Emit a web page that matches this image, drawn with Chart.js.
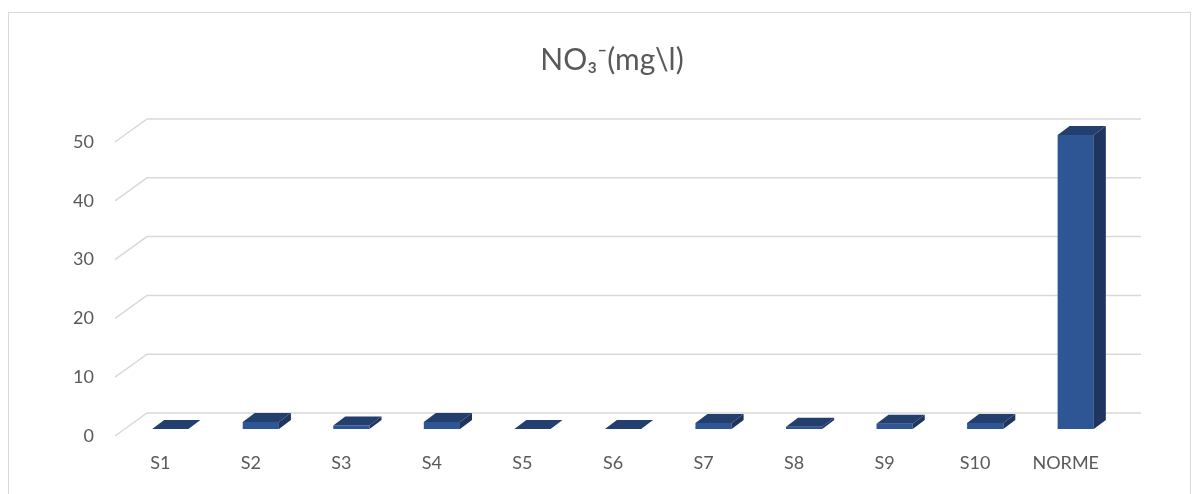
<!DOCTYPE html>
<html>
<head>
<meta charset="utf-8">
<script src="https://cdn.jsdelivr.net/npm/chart.js@4.4.1/dist/chart.umd.min.js"></script>
<style>
  html, body { margin: 0; padding: 0; background: #ffffff; }
  #wrap { width: 1202px; height: 494px; position: relative; }
</style>
</head>
<body>
<div id="wrap"><canvas id="c" width="1202" height="494"></canvas></div>
<script>
const categories = ['S1', 'S2', 'S3', 'S4', 'S5', 'S6', 'S7', 'S8', 'S9', 'S10', 'NORME'];
const no3Values = [0, 1.2, 0.6, 1.2, 0, 0, 1.0, 0.4, 0.9, 1.0, 50];
const yTicks = [0, 10, 20, 30, 40, 50];
const chartTitle = 'NO\u2083\u207B(mg\\l)';

const FONT = "Lato, 'Open Sans', 'Noto Sans', sans-serif";
const DEPTH_X = 12, DEPTH_Y = 9;
const WALL_BACK_DX = 22, WALL_BACK_DY = -16, WALL_FRONT_DX = -10, WALL_FRONT_DY = 7;

const threeD = {
  id: 'threeD',
  beforeDraw(chart) {
    const ctx = chart.ctx;
    ctx.save();
    ctx.fillStyle = '#ffffff';
    ctx.fillRect(0, 0, chart.width, chart.height);
    ctx.strokeStyle = '#d9d9d9';
    ctx.lineWidth = 1;
    ctx.strokeRect(8.5, 12.5, 1182, 520);
    ctx.restore();
  },
  beforeDatasetsDraw(chart) {
    const ctx = chart.ctx;
    const y = chart.scales.y;
    const area = chart.chartArea;
    ctx.save();
    ctx.strokeStyle = '#d9d9d9';
    ctx.lineWidth = 1.5;
    yTicks.forEach(v => {
      const py = y.getPixelForValue(v);
      ctx.beginPath();
      ctx.moveTo(area.left + WALL_FRONT_DX, py + WALL_FRONT_DY);
      ctx.lineTo(area.left + WALL_BACK_DX, py + WALL_BACK_DY);
      ctx.lineTo(area.right + 20, py + WALL_BACK_DY);
      ctx.stroke();
    });
    ctx.restore();
  },
  afterDatasetsDraw(chart) {
    const ctx = chart.ctx;
    const meta = chart.getDatasetMeta(0);
    ctx.save();
    meta.data.forEach(bar => {
      const p = bar.getProps(['x', 'y', 'base', 'width'], true);
      const l = p.x - p.width / 2, r = p.x + p.width / 2;
      const top = p.y, base = p.base;
      if (base - top > 0.5) {
        ctx.fillStyle = '#1f3560';
        ctx.beginPath();
        ctx.moveTo(r, top);
        ctx.lineTo(r + DEPTH_X, top - DEPTH_Y);
        ctx.lineTo(r + DEPTH_X, base - DEPTH_Y);
        ctx.lineTo(r, base);
        ctx.closePath();
        ctx.fill();
      }
      ctx.fillStyle = '#223f6e';
      ctx.beginPath();
      ctx.moveTo(l, top);
      ctx.lineTo(r, top);
      ctx.lineTo(r + DEPTH_X, top - DEPTH_Y);
      ctx.lineTo(l + DEPTH_X, top - DEPTH_Y);
      ctx.closePath();
      ctx.fill();
    });
    ctx.restore();
  }
};

new Chart(document.getElementById('c'), {
  type: 'bar',
  data: {
    labels: categories,
    datasets: [{
      data: no3Values,
      backgroundColor: '#2e5594',
      borderWidth: 0,
      categoryPercentage: 1,
      barPercentage: 0.4
    }]
  },
  options: {
    responsive: false,
    animation: false,
    devicePixelRatio: 1,
    layout: { padding: { left: 22, right: 0, top: 0, bottom: 0 } },
    plugins: {
      legend: { display: false },
      tooltip: { enabled: false },
      title: {
        display: true,
        text: chartTitle,
        color: '#595959',
        font: { family: FONT, size: 30, weight: 'normal' },
        padding: { top: 42, bottom: 57 }
      }
    },
    scales: {
      x: {
        grid: { display: false, drawTicks: false },
        border: { display: false },
        ticks: { color: '#595959', font: { family: FONT, size: 18 }, padding: 23, labelOffset: -10, maxRotation: 0 },
        afterFit(s) { s.height = 65; }
      },
      y: {
        min: 0, max: 50,
        afterBuildTicks(s) { s.ticks = yTicks.map(v => ({ value: v })); },
        grid: { display: false, drawTicks: false },
        border: { display: false },
        ticks: { color: '#595959', font: { family: FONT, size: 18 }, padding: 31, labelOffset: 7 },
        afterFit(s) { s.width = 103; }
      },
      yRight: {
        position: 'right',
        display: true,
        grid: { display: false, drawTicks: false },
        border: { display: false },
        ticks: { display: false },
        afterFit(s) { s.width = 81; }
      }
    }
  },
  plugins: [threeD]
});
</script>
</body>
</html>
